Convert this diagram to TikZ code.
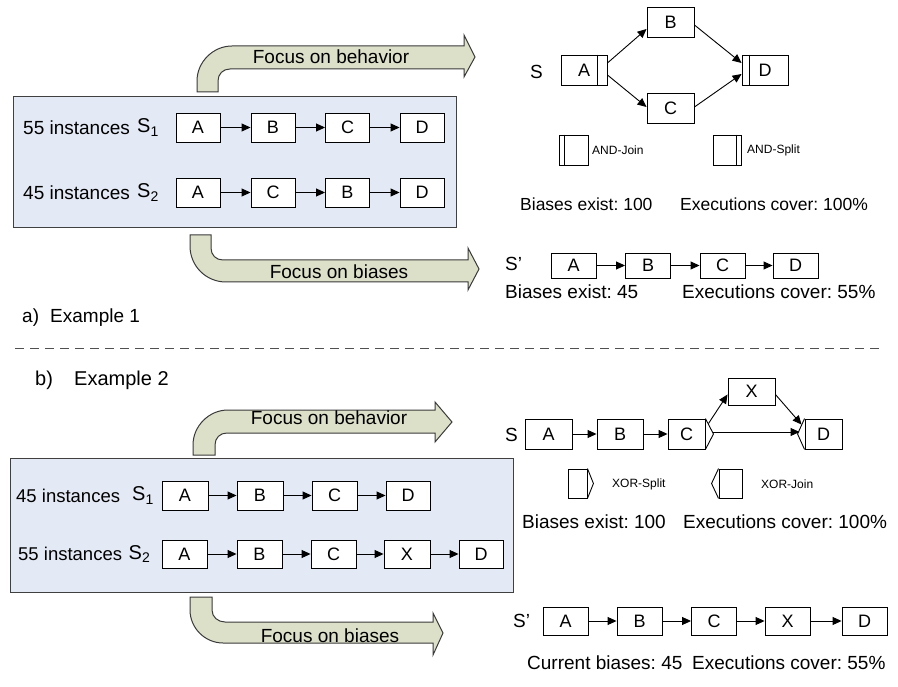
\documentclass[tikz,border=0pt]{standalone}
\usepackage{fontspec}
\setmainfont{Liberation Sans}
\usetikzlibrary{arrows.meta}
\definecolor{panelfill}{HTML}{E4EAF5}
\definecolor{paneldraw}{HTML}{404040}
\definecolor{arrowfill}{HTML}{DCE0C9}
\definecolor{arrowdraw}{HTML}{3A3A3A}
\definecolor{dashcol}{HTML}{505050}
\newcommand{\fsz}[1]{\fontsize{#1}{#1}\selectfont}
\frenchspacing
\begin{document}
\frenchspacing
\begin{tikzpicture}[x=1pt,y=-1pt,
  act/.style={draw, line width=0.9pt, fill=white, minimum width=45pt, minimum height=29pt, inner sep=0pt, font=\fsz{18}},
  blank/.style={draw, line width=0.9pt, fill=white, inner sep=0pt},
  lbl/.style={anchor=west, inner sep=0pt, font=\fsz{19}},
  small/.style={anchor=west, inner sep=0pt, font=\fsz{12}},
  flow/.style={-{Triangle[length=9pt,width=8pt]}, line width=0.9pt},
  bigarrow/.style={fill=arrowfill, draw=arrowdraw, line width=1pt},
  arrowtext/.style={inner sep=0pt, font=\fsz{19}},
  panel/.style={fill=panelfill, draw=paneldraw, line width=1pt, inner sep=0pt},
  sep/.style={draw=dashcol, line width=0.9pt, dash pattern=on 9pt off 6pt}]
\useasboundingbox (0,0) rectangle (898,687);

% ================= Example 1 =================
\draw[bigarrow] (197,92) -- (197,81) .. controls (197,62) and (213,46) .. (232,46) -- (464,46) -- (464,35) -- (475,57) -- (464,77) -- (464,69) -- (230,69) .. controls (223,69) and (218,74) .. (218,81) -- (218,92) -- cycle;
\node[arrowtext] (fbeh1) at (331,57) {Focus on behavior};

\node[panel, minimum width=443pt, minimum height=131pt] (panA) at (234.5,162.5) {};

\draw[bigarrow] (190,235) -- (190,246) .. controls (190,266) and (206,282) .. (226,282) -- (468,282) -- (468,290) -- (479,269) -- (468,248) -- (468,260) -- (223,260) .. controls (216,260) and (211,255) .. (211,248) -- (211,235) -- cycle;
\node[arrowtext] (fbias1) at (339,272) {Focus on biases};

% rows
\node[lbl] (inst55a) at (23,127.5) {55 instances};
\node[lbl, font=\fsz{20}] (s1a) at (137,127.5) {S\textsubscript{1}};
\node[act, minimum width=44pt] (a1A) at (198,127.5) {A};
\node[act, minimum width=44pt] (a1B) at (273,127.5) {B};
\node[act, minimum width=44pt] (a1C) at (347.5,127.5) {C};
\node[act, minimum width=44pt] (a1D) at (422,127.5) {D};
\draw[flow] (a1A) -- (a1B);
\draw[flow] (a1B) -- (a1C);
\draw[flow] (a1C) -- (a1D);

\node[lbl] (inst45a) at (23,192.5) {45 instances};
\node[lbl, font=\fsz{20}] (s2a) at (137,192.5) {S\textsubscript{2}};
\node[act, minimum width=44pt] (a2A) at (198,192.5) {A};
\node[act, minimum width=44pt] (a2C) at (273,192.5) {C};
\node[act, minimum width=44pt] (a2B) at (347.5,192.5) {B};
\node[act, minimum width=44pt] (a2D) at (422,192.5) {D};
\draw[flow] (a2A) -- (a2C);
\draw[flow] (a2C) -- (a2B);
\draw[flow] (a2B) -- (a2D);

% right: behaviour model
\node[lbl] (Sa) at (530,72) {S};
\node[act, minimum width=46pt, minimum height=30pt] (tA) at (584,70) {A};
\node[act, minimum width=47pt, minimum height=30pt] (tB) at (670.5,22) {B};
\node[act, minimum width=47pt, minimum height=30pt] (tC) at (670.5,108) {C};
\node[act, minimum width=46pt, minimum height=30pt] (tD) at (765,70) {D};
\draw[line width=0.9pt] ([xshift=-10pt]tA.north east) -- ([xshift=-10pt]tA.south east);
\draw[line width=0.9pt] ([xshift=8pt]tD.north west) -- ([xshift=8pt]tD.south west);
\draw[flow] ([yshift=7pt]tA.east) -- ([yshift=-7pt]tB.west);
\draw[flow] ([yshift=-5pt]tA.east) -- ([yshift=1pt]tC.west);
\draw[flow] ([yshift=-3pt]tB.east) -- ([yshift=7pt]tD.west);
\draw[flow] ([yshift=1pt]tC.east) -- ([yshift=-4pt]tD.west);

\node[blank, minimum width=29pt, minimum height=30pt] (lgJoin) at (573.5,150) {};
\draw[line width=0.9pt] ([xshift=6pt]lgJoin.north west) -- ([xshift=6pt]lgJoin.south west);
\node[small] (lgJoinT) at (592,150) {AND-Join};
\node[blank, minimum width=28pt, minimum height=30pt] (lgSplit) at (727,150) {};
\draw[line width=0.9pt] ([xshift=-5pt]lgSplit.north east) -- ([xshift=-5pt]lgSplit.south east);
\node[small] (lgSplitT) at (747,150) {AND-Split};

\node[lbl, font=\fsz{17.5}] (bea) at (520,204) {Biases exist: 100};
\node[lbl, font=\fsz{17.5}] (eca) at (680,204) {Executions cover: 100\%};

% right: bias model
\node[lbl] (Spa) at (505,264) {S’};
\node[act, minimum height=25pt] (pA) at (573.5,265.5) {A};
\node[act, minimum height=25pt] (pB) at (648,265.5) {B};
\node[act, minimum height=25pt] (pC) at (722.5,265.5) {C};
\node[act, minimum height=25pt] (pD) at (795.5,265.5) {D};
\draw[flow] (pA) -- (pB);
\draw[flow] (pB) -- (pC);
\draw[flow] (pC) -- (pD);
\node[lbl] (bea2) at (505,292) {Biases exist: 45};
\node[lbl] (eca2) at (682,292) {Executions cover: 55\%};

\node[lbl] (la) at (22,318) {a)};
\node[lbl] (lex1) at (50,318) {Example 1};

% separator
\coordinate (dl) at (15,348);
\coordinate (dr) at (880,348);
\draw[sep] (dl) -- (dr);

% ================= Example 2 =================
\node[lbl, font=\fsz{20}] (lb) at (35,380) {b)};
\node[lbl, font=\fsz{20}] (lex2) at (74,380) {Example 2};

\draw[bigarrow] (193,455) -- (193,445) .. controls (193,426) and (209,410) .. (228,410) -- (435,410) -- (435,402) -- (452,422) -- (435,442) -- (435,433) -- (227,433) .. controls (220,433) and (215,438) .. (215,445) -- (215,455) -- cycle;
\node[arrowtext] (fbeh2) at (329,418) {Focus on behavior};

\node[panel, minimum width=503pt, minimum height=134pt] (panB) at (261.5,525) {};

\draw[bigarrow] (190,597) -- (190,610) .. controls (190,628) and (205,643) .. (223,643) -- (433,643) -- (433,655) -- (443,633) -- (433,613) -- (433,622) -- (225,622) .. controls (218,622) and (212,617) .. (212,610) -- (212,597) -- cycle;
\node[arrowtext] (fbias2) at (330,636) {Focus on biases};

\node[lbl, font=\fsz{18.5}] (inst45b) at (16,495.5) {45 instances};
\node[lbl, font=\fsz{20}] (s1b) at (132,495.5) {S\textsubscript{1}};
\node[act, minimum width=46pt] (b1A) at (185,495.5) {A};
\node[act, minimum width=46pt] (b1B) at (260,495.5) {B};
\node[act, minimum width=45pt] (b1C) at (334.5,495.5) {C};
\node[act, minimum width=44pt] (b1D) at (408,495.5) {D};
\draw[flow] (b1A) -- (b1B);
\draw[flow] (b1B) -- (b1C);
\draw[flow] (b1C) -- (b1D);

\node[lbl, font=\fsz{18.5}] (inst55b) at (18,554) {55 instances};
\node[lbl, font=\fsz{20}] (s2b) at (128.5,554) {S\textsubscript{2}};
\node[act, minimum height=28pt] (b2A) at (184.5,554) {A};
\node[act, minimum height=28pt] (b2B) at (259.5,554) {B};
\node[act, minimum height=28pt] (b2C) at (333.5,554) {C};
\node[act, minimum width=46pt, minimum height=28pt] (b2X) at (407,554) {X};
\node[act, minimum width=44pt, minimum height=28pt] (b2D) at (481,554) {D};
\draw[flow] (b2A) -- (b2B);
\draw[flow] (b2B) -- (b2C);
\draw[flow] (b2C) -- (b2X);
\draw[flow] (b2X) -- (b2D);

% right: behaviour model with XOR
\node[lbl] (Sb) at (505,435) {S};
\node[act, minimum width=47pt, minimum height=30pt] (bA) at (548.5,434) {A};
\node[act, minimum width=46pt, minimum height=30pt] (bB) at (620,434) {B};
\node[act, minimum width=37pt, minimum height=30pt] (bC) at (686.5,434) {C};
\node[act, minimum width=47pt, minimum height=27pt] (bX) at (751.5,391.5) {X};
\node[act, minimum width=37pt, minimum height=30pt] (bD) at (823.5,434) {D};
\coordinate (bCtip) at ([xshift=8pt]bC.east);
\coordinate (bDtip) at ([xshift=-7pt]bD.west);
\draw[line width=0.9pt] (bC.north east) -- (bCtip) -- (bC.south east);
\draw[line width=0.9pt] (bD.north west) -- (bDtip) -- (bD.south west);
\draw[flow] (bA) -- (bB);
\draw[flow] (bB) -- (bC);
\draw[flow] ([xshift=3pt,yshift=-5pt]bC.north east) -- ([yshift=-3pt]bX.west);
\draw[flow] ([yshift=-3pt]bX.east) -- ([xshift=-3pt,yshift=-6pt]bD.north west);
\draw[flow] ([yshift=2pt]bCtip) -- ([xshift=-5pt,yshift=2pt]bD.west);

\node[blank, minimum width=19pt, minimum height=29pt] (lgXS) at (577.5,483.5) {};
\draw[line width=0.9pt] (lgXS.north east) -- ([xshift=6pt]lgXS.east) -- (lgXS.south east);
\node[small] (lgXST) at (612,484) {XOR-Split};
\node[blank, minimum width=23pt, minimum height=29pt] (lgXJ) at (730.5,483.5) {};
\draw[line width=0.9pt] (lgXJ.north west) -- ([xshift=-7pt]lgXJ.west) -- (lgXJ.south west);
\node[small] (lgXJT) at (761,484) {XOR-Join};

\node[lbl] (beb) at (522,522) {Biases exist: 100};
\node[lbl] (ecb) at (683,522) {Executions cover: 100\%};

% right: bias model
\node[lbl] (Spb) at (513,621) {S’};
\node[act, minimum height=28pt] (qA) at (565.5,621) {A};
\node[act, minimum height=28pt] (qB) at (639.5,621) {B};
\node[act, minimum height=28pt] (qC) at (714,621) {C};
\node[act, minimum height=28pt] (qX) at (787.5,621) {X};
\node[act, minimum height=28pt] (qD) at (864.5,621) {D};
\draw[flow] (qA) -- (qB);
\draw[flow] (qB) -- (qC);
\draw[flow] (qC) -- (qX);
\draw[flow] (qX) -- (qD);
\node[lbl] (cbb) at (527,663) {Current biases: 45};
\node[lbl] (ecb2) at (692,663) {Executions cover: 55\%};
\end{tikzpicture}
\end{document}
